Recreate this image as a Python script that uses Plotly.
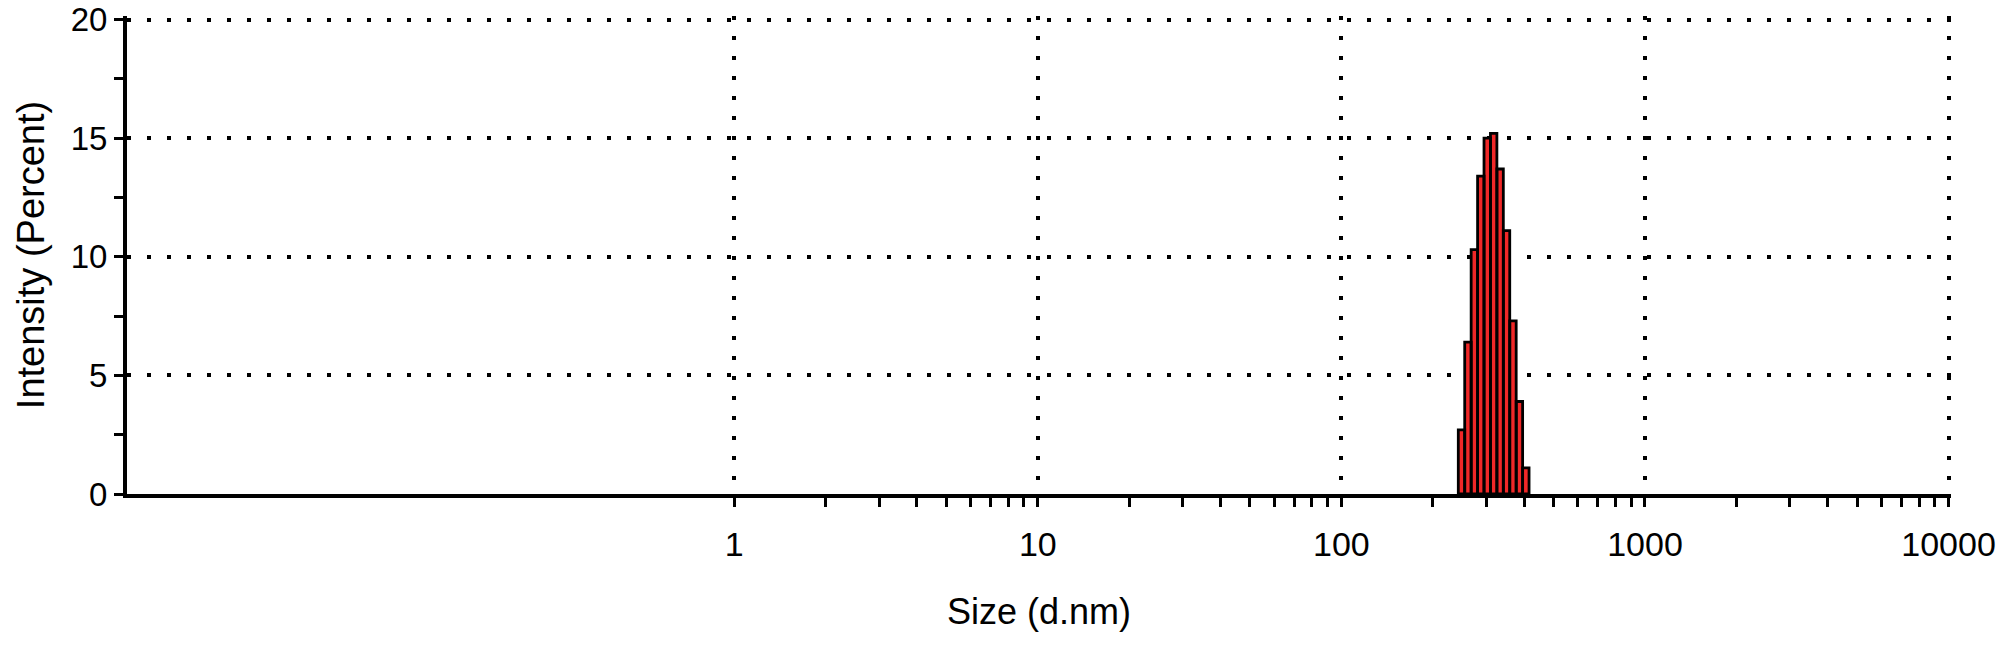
import numpy as np
import plotly.graph_objects as go

# ---- data ----
sizes_nm = [248.7, 261.1, 274.2, 287.9, 302.3, 317.4, 333.3, 349.9, 367.4, 385.8, 405.1]
intensity_pct = [2.7, 6.4, 10.3, 13.4, 15.0, 15.2, 13.7, 11.1, 7.3, 3.9, 1.1]

x_major = [1, 10, 100, 1000, 10000]
x_major_text = ["1", "10", "100", "1000", "10000"]
x_minor = [m * d for d in [1, 10, 100, 1000] for m in range(2, 10)]
y_major = [0, 5, 10, 15, 20]
y_minor = [2.5, 7.5, 12.5, 17.5]

# ---- build bar polygons (log-spaced bins) ----
c = np.log10(np.array(sizes_nm))
mids = (c[:-1] + c[1:]) / 2
edges = np.concatenate([[c[0] - (mids[0] - c[0])], mids, [c[-1] + (c[-1] - mids[-1])]])
edges = 10 ** edges
px, py = [], []
for i, v in enumerate(intensity_pct):
    l, r = edges[i], edges[i + 1]
    px += [l, l, r, r, l, None]
    py += [0, v, v, 0, 0, None]

fig = go.Figure()
fig.add_trace(go.Scatter(
    x=px, y=py, mode="lines", fill="toself",
    fillcolor="#F02828", line=dict(color="black", width=2.8),
    showlegend=False, hoverinfo="skip"))

FONT = "Liberation Sans, Arial, sans-serif"
dot = "4px,16px"
XR = [-2, 4.008]
YR = [0, 20.15]

fig.update_layout(
    width=2008, height=650,
    margin=dict(l=127, r=57, t=16, b=156),
    paper_bgcolor="white", plot_bgcolor="white",
    font=dict(family=FONT, color="black", size=33),
    showlegend=False,
    xaxis=dict(
        type="log", range=XR, automargin=False,
        tickvals=x_major, ticktext=x_major_text,
        ticks="outside", ticklen=9, tickwidth=3, tickcolor="black",
        minor=dict(tickvals=x_minor, ticks="outside", ticklen=9, tickwidth=3,
                   tickcolor="black", showgrid=False),
        showgrid=True, gridcolor="black", gridwidth=4, griddash=dot,
        showline=True, linecolor="black", linewidth=4,
        zeroline=False, ticklabelstandoff=8, ticklabeloverflow="allow",
        tickfont=dict(size=34),
        title=dict(text="Size (d.nm)", font=dict(size=36), standoff=38),
    ),
    xaxis2=dict(
        type="log", range=XR, overlaying="x", anchor="y", side="bottom",
        tickvals=x_major + x_minor, ticks="inside", ticklen=9, tickwidth=3,
        tickcolor="black", showticklabels=False, showgrid=False,
        showline=False, zeroline=False, automargin=False,
    ),
    yaxis=dict(
        range=YR, tickvals=y_major, automargin=False,
        ticks="outside", ticklen=9, tickwidth=3, tickcolor="black",
        minor=dict(tickvals=y_minor, ticks="outside", ticklen=9, tickwidth=3,
                   tickcolor="black", showgrid=False),
        showgrid=True, gridcolor="black", gridwidth=4, griddash=dot,
        showline=True, linecolor="black", linewidth=4,
        zeroline=False, tickfont=dict(size=33), ticklabeloverflow="allow",
        title=dict(text="Intensity (Percent)", font=dict(size=38), standoff=15),
    ),
    yaxis2=dict(
        range=YR, overlaying="y", anchor="x", side="left",
        tickvals=y_major + y_minor, ticks="inside", ticklen=9, tickwidth=3,
        tickcolor="black", showticklabels=False, showgrid=False,
        showline=False, zeroline=False, automargin=False,
    ),
)

fig.write_html(
    "out.html",
    config={"displayModeBar": False, "staticPlot": True},
    post_script="document.body.style.margin='0px';document.body.style.overflow='hidden';",
)
